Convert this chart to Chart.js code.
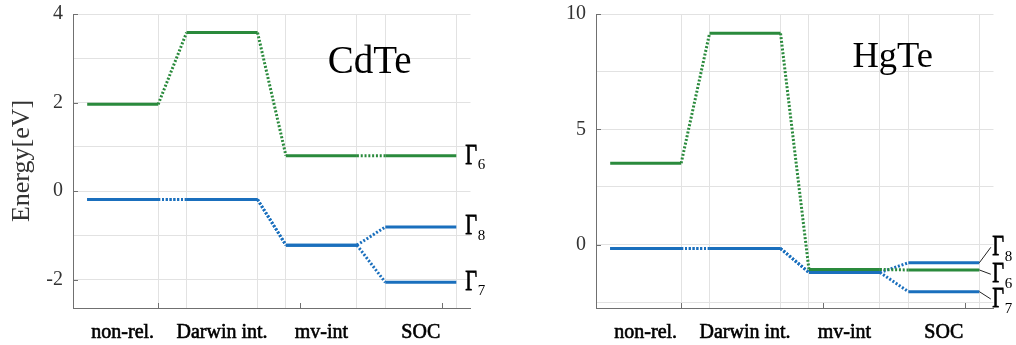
<!DOCTYPE html>
<html>
<head>
<meta charset="utf-8">
<script src="https://cdn.jsdelivr.net/npm/chart.js@4.4.1/dist/chart.umd.min.js"></script>
<style>
  html, body { margin: 0; padding: 0; background: #fff; }
  #wrap { position: relative; width: 1016px; height: 345px; overflow: hidden; }
  .panel { position: absolute; top: 0; }
</style>
</head>
<body>
<div id="wrap">
  <canvas id="cdte" class="panel" style="left:0" width="508" height="345"></canvas>
  <canvas id="hgte" class="panel" style="left:508px" width="508" height="345"></canvas>
</div>
<script>
// stages of the level diagram and where each one sits on the x axis
const stages = ['non-rel.', 'Darwin int.', 'mv-int', 'SOC'];
const stageStart = [0.5, 1.2, 1.9, 2.6];
const stageEnd = [1.0, 1.7, 2.4, 3.1];

// band-edge energies in eV, one value per stage
const cdteGamma6 = [1.96, 3.58, 0.80, 0.80];
const cdteGamma8 = [-0.19, -0.19, -1.22, -0.81];
const cdteGamma7 = [-0.19, -0.19, -1.22, -2.06];

const hgteGamma6 = [3.53, 9.16, -1.08, -1.10];
const hgteGamma8 = [-0.17, -0.17, -1.21, -0.79];
const hgteGamma7 = [-0.17, -0.17, -1.21, -2.04];

// y ticks: labelled ones and the extra grid lines
const cdteYLabels = [-2, 0, 2, 4];
const cdteYGrid = [-2, -1, 0, 1, 2, 3, 4];
const hgteYLabels = [0, 5, 10];
const hgteYGrid = [-2.5, 0, 2.5, 5, 7.5, 10];
const xMarks = [1, 2, 3];

const GREEN = '#2a8a3c';
const BLUE = '#1a6fbd';
const SERIF = '"Liberation Serif", "DejaVu Serif", serif';

// solid level per stage, dotted link to the next stage
function levelDataset(levels, color, order) {
  const pts = [];
  levels.forEach((v, i) => {
    pts.push({ x: stageStart[i], y: v });
    pts.push({ x: stageEnd[i], y: v });
  });
  return {
    data: pts,
    borderColor: color,
    borderWidth: 3,
    borderCapStyle: 'butt',
    pointRadius: 0,
    tension: 0,
    order: order,
    segment: {
      borderDash: ctx => (ctx.p0DataIndex % 2 === 1 ? [2, 1.8] : undefined)
    }
  };
}

const stageCenters = stageStart.map((s, i) => (s + stageEnd[i]) / 2);
const xTickValues = stageEnd.concat(stageStart.slice(1), stageCenters).sort((a, b) => a - b);

const decor = {
  id: 'decor',
  afterDraw(chart, args, opts) {
    const { ctx, chartArea: a, scales: { x, y } } = chart;
    ctx.save();
    // inward tick marks
    ctx.strokeStyle = '#707070';
    ctx.lineWidth = 1;
    ctx.beginPath();
    xMarks.forEach(v => {
      const px = Math.round(x.getPixelForValue(v)) + 0.5;
      ctx.moveTo(px, a.bottom);
      ctx.lineTo(px, a.bottom - 5);
    });
    opts.yMarks.forEach(v => {
      const py = Math.round(y.getPixelForValue(v)) + 0.5;
      ctx.moveTo(a.left, py);
      ctx.lineTo(a.left + 5, py);
    });
    ctx.stroke();

    // compound name
    ctx.fillStyle = '#000';
    ctx.font = opts.nameSize + 'px ' + SERIF;
    ctx.textAlign = 'center';
    ctx.textBaseline = 'alphabetic';
    ctx.fillText(opts.name, x.getPixelForValue(opts.nameAt[0]), y.getPixelForValue(opts.nameAt[1]));

    // Γ labels at the right end of the SOC levels
    ctx.textAlign = 'left';
    opts.labels.forEach(l => {
      const x0 = x.getPixelForValue(stageEnd[3]);
      const y0 = y.getPixelForValue(l.value);
      const gx = x0 + opts.gap;
      const base = y0 + l.dy;
      if (opts.leader) {
        ctx.strokeStyle = '#222';
        ctx.lineWidth = 1;
        ctx.beginPath();
        ctx.moveTo(x0, y0);
        ctx.lineTo(gx - 1.5, base - 8);
        ctx.stroke();
      }
      ctx.save();
      ctx.translate(gx, base);
      ctx.scale(0.68, 1);
      ctx.font = '30px ' + SERIF;
      ctx.strokeStyle = '#000';
      ctx.lineWidth = 0.8;
      ctx.fillText('Γ', 0, 0);
      ctx.strokeText('Γ', 0, 0);
      ctx.restore();
      ctx.font = '15px ' + SERIF;
      ctx.fillText(l.sub, gx + 12.5, base + 5.5);
    });
    ctx.restore();
  }
};

function makeChart(id, cfg) {
  return new Chart(document.getElementById(id), {
    type: 'line',
    data: {
      datasets: [
        levelDataset(cfg.g6, GREEN, 0),
        levelDataset(cfg.g8, BLUE, 1),
        levelDataset(cfg.g7, BLUE, 2)
      ]
    },
    options: {
      responsive: false,
      animation: false,
      layout: { padding: { left: 0, top: 14, right: cfg.padRight, bottom: 0 } },
      plugins: {
        legend: { display: false },
        tooltip: { enabled: false },
        decor: cfg.decor
      },
      scales: {
        x: {
          type: 'linear',
          min: 0.4,
          max: 3.2,
          afterBuildTicks: s => { s.ticks = xTickValues.map(v => ({ value: v })); },
          afterFit: s => {
            s.height = 37;
            s.paddingLeft = 0;
            s.paddingRight = 0;
          },
          ticks: {
            autoSkip: false,
            maxRotation: 0,
            padding: 13,
            color: '#000',
            textStrokeColor: '#000',
            textStrokeWidth: 0.6,
            font: { family: SERIF, size: 20 },
            callback: v => {
              const i = stageCenters.findIndex(c => Math.abs(c - v) < 1e-6);
              return i >= 0 ? stages[i] : '';
            }
          },
          grid: {
            drawTicks: false,
            color: c => (stageCenters.some(s => Math.abs(s - c.tick.value) < 1e-6) ? 'rgba(0,0,0,0)' : '#e2e2e2')
          },
          border: { display: true, color: '#707070', width: 1 }
        },
        y: {
          min: cfg.yMin,
          max: cfg.yMax,
          afterBuildTicks: s => { s.ticks = cfg.yGrid.map(v => ({ value: v })); },
          afterFit: s => {
            s.width = cfg.yWidth;
            s.paddingTop = 0;
            s.paddingBottom = 0;
          },
          ticks: {
            autoSkip: false,
            padding: 10,
            color: '#333',
            font: { family: SERIF, size: 20 },
            callback: v => (cfg.yLabels.includes(v) ? String(v) : '')
          },
          title: {
            display: !!cfg.yTitle,
            text: cfg.yTitle || '',
            color: '#333',
            padding: { top: 7, bottom: 0 },
            font: { family: SERIF, size: 26 }
          },
          grid: { drawTicks: false, color: '#e2e2e2' },
          border: { display: true, color: '#707070', width: 1 }
        }
      }
    },
    plugins: [decor]
  });
}

makeChart('cdte', {
  g6: cdteGamma6, g8: cdteGamma8, g7: cdteGamma7,
  yMin: -2.64, yMax: 4, yGrid: cdteYGrid, yLabels: cdteYLabels,
  yWidth: 73, padRight: 37.5, yTitle: 'Energy[eV]',
  decor: {
    name: 'CdTe', nameSize: 39, nameAt: [2.49, 2.66],
    yMarks: cdteYLabels, gap: 9, leader: false,
    labels: [
      { value: cdteGamma6[3], sub: '6', dy: 8 },
      { value: cdteGamma8[3], sub: '8', dy: 7.5 },
      { value: cdteGamma7[3], sub: '7', dy: 7.5 }
    ]
  }
});

makeChart('hgte', {
  g6: hgteGamma6, g8: hgteGamma8, g7: hgteGamma7,
  yMin: -2.75, yMax: 10, yGrid: hgteYGrid, yLabels: hgteYLabels,
  yWidth: 88, padRight: 22.5, yTitle: '',
  decor: {
    name: 'HgTe', nameSize: 36.5, nameAt: [2.49, 7.71],
    yMarks: hgteYLabels, gap: 13, leader: true,
    labels: [
      { value: hgteGamma8[3], sub: '8', dy: -7.5 },
      { value: hgteGamma6[3], sub: '6', dy: 12.3 },
      { value: hgteGamma7[3], sub: '7', dy: 15.4 }
    ]
  }
});
</script>
</body>
</html>
